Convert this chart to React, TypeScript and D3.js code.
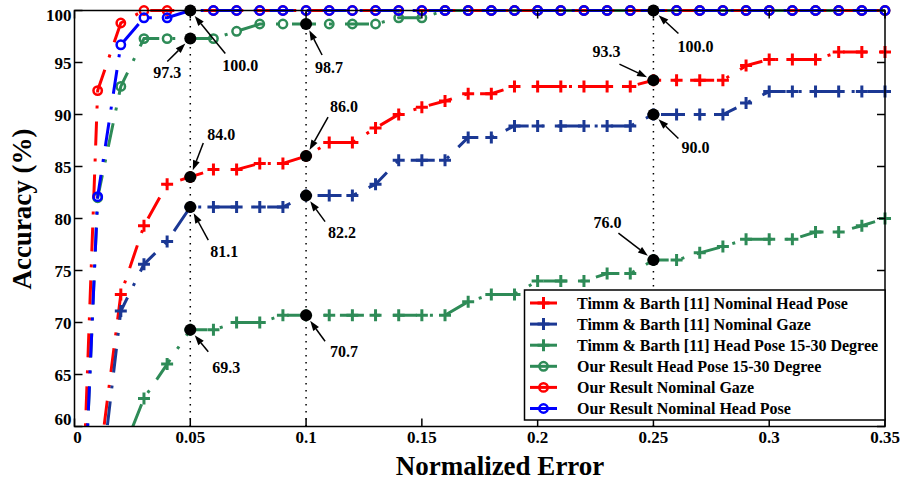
import React from "react";
import * as d3 from "d3";

// normalized error grid (x values)
const errorLevels = [
  0, 0.01, 0.02, 0.03, 0.04, 0.05, 0.06, 0.07, 0.08, 0.09, 0.1, 0.11,
  0.12, 0.13, 0.14, 0.15, 0.16, 0.17, 0.18, 0.19, 0.2, 0.21, 0.22, 0.23,
  0.24, 0.25, 0.26, 0.27, 0.28, 0.29, 0.3, 0.31, 0.32, 0.33, 0.34, 0.35,
];

const timmHeadPose = [
  40, 55.2, 72.7, 79.3, 83.3, 84.0, 84.7, 84.7, 85.3, 85.3, 86.0, 87.3,
  87.3, 88.7, 90.0, 90.7, 91.3, 92.0, 92.0, 92.7, 92.7, 92.7, 92.7, 92.7,
  92.7, 93.3, 93.3, 93.3, 93.3, 94.7, 95.3, 95.3, 95.3, 96.0, 96.0, 96.0,
];
const timmGaze = [
  40, 52.1, 71.1, 75.6, 77.8, 81.1, 81.1, 81.1, 81.1, 81.1, 82.2, 82.2,
  82.2, 83.3, 85.6, 85.6, 85.6, 87.8, 87.8, 88.9, 88.9, 88.9, 88.9, 88.9,
  88.9, 90.0, 90.0, 90.0, 90.0, 91.1, 92.2, 92.2, 92.2, 92.2, 92.2, 92.2,
];
const timmPose1530 = [
  30, 45, 57.1, 62.7, 66.0, 69.3, 69.3, 70.0, 70.0, 70.7, 70.7, 70.7,
  70.7, 70.7, 70.7, 70.7, 70.7, 72.0, 72.7, 72.7, 74.0, 74.0, 74.0, 74.7,
  74.7, 76.0, 76.0, 76.7, 77.3, 78.0, 78.0, 78.0, 78.7, 78.7, 79.3, 80.0,
];
const ourPose1530 = [
  31, 82.0, 92.7, 97.3, 97.3, 97.3, 97.3, 98.0, 98.7, 98.7, 98.7, 98.7,
  98.7, 98.7, 99.3, 99.3, 100, 100, 100, 100, 100, 100, 100, 100,
  100, 100, 100, 100, 100, 100, 100, 100, 100, 100, 100, 100,
];
const ourGaze = [
  31, 92.3, 98.8, 100, 100, 100, 100, 100, 100, 100, 100, 100,
  100, 100, 100, 100, 100, 100, 100, 100, 100, 100, 100, 100,
  100, 100, 100, 100, 100, 100, 100, 100, 100, 100, 100, 100,
];
const ourHeadPose = [
  31, 82.1, 96.7, 99.3, 99.3, 100, 100, 100, 100, 100, 100, 100,
  100, 100, 100, 100, 100, 100, 100, 100, 100, 100, 100, 100,
  100, 100, 100, 100, 100, 100, 100, 100, 100, 100, 100, 100,
];

const seriesLabels = [
  "Timm & Barth [11] Nominal Head Pose",
  "Timm & Barth [11] Nominal Gaze",
  "Timm & Barth [11] Head Pose 15-30 Degree",
  "Our Result Head Pose 15-30 Degree",
  "Our Result Nominal Gaze",
  "Our Result Nominal Head Pose",
];

const xTicks = [0, 0.05, 0.1, 0.15, 0.2, 0.25, 0.3, 0.35];
const xTickLabels = ["0", "0.05", "0.1", "0.15", "0.2", "0.25", "0.3", "0.35"];
const yTicks = [60, 65, 70, 75, 80, 85, 90, 95, 100];

// highlighted points
const guideErrors = [0.05, 0.1, 0.25];
const calloutX = [0.05, 0.05, 0.05, 0.05, 0.05, 0.1, 0.1, 0.1, 0.1, 0.25, 0.25, 0.25, 0.25];
const calloutY = [100, 97.3, 84.0, 81.1, 69.3, 98.7, 86.0, 82.2, 70.7, 100, 93.3, 90.0, 76.0];
const calloutLabels = ["100.0", "97.3", "84.0", "81.1", "69.3", "98.7", "86.0", "82.2", "70.7", "100.0", "93.3", "90.0", "76.0"];

// label / arrow-start offsets from each dot, in px: [tx, ty, ax, ay]
const calloutLayout = [
  [50, 54, 35, 43],
  [-23, 33, -23, 23],
  [31, -43, 13, -34],
  [34, 44, 18, 33],
  [36, 37, 18, 22],
  [23, 43, 16, 31],
  [38, -50, 22, -39],
  [36, 36, 19, 26],
  [38, 36, 19, 26],
  [42, 35, 25, 23],
  [-47, -29, -34, -16],
  [42, 32, 25, 24],
  [-46, -38, -35, -27],
];

const RED = "#ff0000";
const NAVY = "#1b3894";
const GREEN = "#2e8b57";
const BLUE = "#0000ff";
const FONT = "'Liberation Serif', 'Times New Roman', serif";
const DASH = "24,13,3,13";

const W = 909;
const H = 484;
const left = 74.5, right = 885, top = 10.5, bottom = 426.5;

function Marker({ kind, cx, cy, color }: { kind: string; cx: number; cy: number; color: string }) {
  if (kind === "plus") {
    return (
      <path
        d={`M${cx - 6},${cy}H${cx + 6}M${cx},${cy - 6}V${cy + 6}`}
        stroke={color}
        strokeWidth={3}
        fill="none"
      />
    );
  }
  return <circle cx={cx} cy={cy} r={4.2} stroke={color} strokeWidth={2.5} fill="none" />;
}

export default function App() {
  const x = d3.scaleLinear().domain([0, 0.35]).range([left, right]);
  const y = d3.scaleLinear().domain([60, 100]).range([bottom, top]);

  const series = [
    { label: seriesLabels[0], values: timmHeadPose, color: RED, kind: "plus" },
    { label: seriesLabels[1], values: timmGaze, color: NAVY, kind: "plus" },
    { label: seriesLabels[2], values: timmPose1530, color: GREEN, kind: "plus" },
    { label: seriesLabels[3], values: ourPose1530, color: GREEN, kind: "circle" },
    { label: seriesLabels[4], values: ourGaze, color: RED, kind: "circle" },
    { label: seriesLabels[5], values: ourHeadPose, color: BLUE, kind: "circle" },
  ];

  const line = d3
    .line<number>()
    .x((_, i) => x(errorLevels[i]))
    .y((d) => y(d));

  const legendTop = 290;
  const legendLeft = 524.5;
  const rowH = 21.1;

  return (
    <svg
      width={W}
      height={H}
      style={{ position: "absolute", left: 0, top: 0, background: "#fff" }}
      fontFamily={FONT}
      fontWeight="bold"
    >
      <defs>
        <clipPath id="plotClip">
          <rect x={left} y={0} width={right - left + 10} height={bottom} />
        </clipPath>
      </defs>
      <rect width={W} height={H} fill="#fff" />

      {/* guide lines */}
      {guideErrors.map((g) => (
        <line
          key={g}
          x1={x(g)}
          x2={x(g)}
          y1={y(60)}
          y2={y(100)}
          stroke="#000"
          strokeWidth={1.5}
          strokeDasharray="1.5,5.5"
        />
      ))}

      {/* series */}
      <g clipPath="url(#plotClip)">
        {series.map((s) => (
          <g key={s.label}>
            <path d={line(s.values) || ""} fill="none" stroke={s.color} strokeWidth={3} strokeDasharray={DASH} />
            {s.values.map((v, i) =>
              v >= 60 ? <Marker key={i} kind={s.kind} cx={x(errorLevels[i])} cy={y(v)} color={s.color} /> : null
            )}
          </g>
        ))}
      </g>

      {/* frame and ticks */}
      <rect x={left} y={top} width={right - left} height={bottom - top} fill="none" stroke="#000" strokeWidth={1.5} />
      {yTicks.map((t) => (
        <g key={t}>
          <line x1={left} x2={left + 8} y1={y(t)} y2={y(t)} stroke="#000" strokeWidth={1.5} />
          <line x1={right} x2={right - 8} y1={y(t)} y2={y(t)} stroke="#000" strokeWidth={1.5} />
          <text
            x={left - 3}
            y={t === 100 ? y(t) + 10 : t === 60 ? y(t) - 2 : y(t) + 6}
            textAnchor="end"
            fontSize={17}
          >
            {t}
          </text>
        </g>
      ))}
      {xTicks.map((t, i) => (
        <g key={t}>
          <line x1={x(t)} x2={x(t)} y1={bottom} y2={bottom - 8} stroke="#000" strokeWidth={1.5} />
          <line x1={x(t)} x2={x(t)} y1={top} y2={top + 8} stroke="#000" strokeWidth={1.5} />
          <text x={i === 0 ? x(t) + 3 : x(t)} y={443} textAnchor="middle" fontSize={17}>
            {xTickLabels[i]}
          </text>
        </g>
      ))}

      {/* callouts */}
      {calloutX.map((cxVal, i) => {
        const px = x(cxVal);
        const py = y(calloutY[i]);
        const [tx, ty, ax, ay] = calloutLayout[i];
        const len = Math.hypot(ax, ay);
        const ux = ax / len, uy = ay / len;
        const ex = px + ux * 7, ey = py + uy * 7;
        const sx = px + ax, sy = py + ay;
        const hx = ex + ux * 10, hy = ey + uy * 10;
        const head = `M${ex},${ey}L${hx - uy * 3.5},${hy + ux * 3.5}L${hx + uy * 3.5},${hy - ux * 3.5}Z`;
        return (
          <g key={i}>
            <circle cx={px} cy={py} r={6} fill="#000" />
            <line x1={sx} y1={sy} x2={hx} y2={hy} stroke="#000" strokeWidth={1.5} />
            <path d={head} fill="#000" />
            <text x={px + tx} y={py + ty + 6} textAnchor="middle" fontSize={16}>
              {calloutLabels[i]}
            </text>
          </g>
        );
      })}

      {/* legend */}
      <rect
        x={legendLeft}
        y={legendTop}
        width={right - legendLeft}
        height={420 - legendTop}
        fill="#fff"
        stroke="#000"
        strokeWidth={1.5}
      />
      {series.map((s, i) => {
        const ly = legendTop + 13 + i * rowH;
        return (
          <g key={s.label}>
            <line x1={530} x2={557} y1={ly} y2={ly} stroke={s.color} strokeWidth={3} />
            <Marker kind={s.kind} cx={543.5} cy={ly} color={s.color} />
            <text x={577} y={ly + 5.5} fontSize={16}>
              {s.label}
            </text>
          </g>
        );
      })}

      {/* axis titles */}
      <text x={500} y={475} textAnchor="middle" fontSize={27}>
        Normalized Error
      </text>
      <text transform="translate(31,209) rotate(-90)" textAnchor="middle" fontSize={27}>
        Accuracy (%)
      </text>
    </svg>
  );
}
